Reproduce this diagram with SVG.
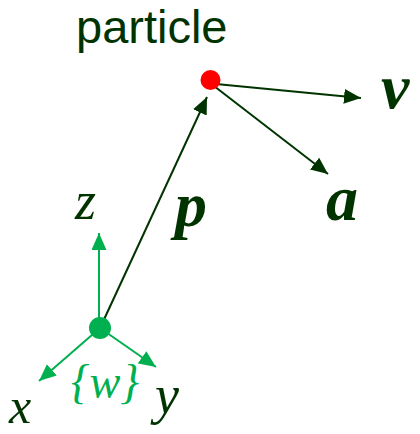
<svg xmlns="http://www.w3.org/2000/svg" width="420" height="434" viewBox="0 0 420 434">
<style>
.dk{stroke:#003300;stroke-width:2;fill:none}
.gn{stroke:#00b050;stroke-width:2;fill:none}
.lbl{font-family:"Liberation Serif",serif;font-style:italic;fill:#003300}
.vec{font-family:"Liberation Serif",serif;font-style:italic;font-weight:bold;fill:#003300;font-size:64px}
</style>
<defs>
<marker id="ad" markerUnits="userSpaceOnUse" markerWidth="18" markerHeight="16" refX="17" refY="7.5" orient="auto"><path d="M0,0 L17,7.5 L0,15 z" fill="#003300"/></marker>
<marker id="ag" markerUnits="userSpaceOnUse" markerWidth="18" markerHeight="16" refX="17" refY="7.5" orient="auto"><path d="M0,0 L17,7.5 L0,15 z" fill="#00b050"/></marker>
</defs>
<g id="connectors">
<line class="dk" x1="101" y1="326" x2="207" y2="97" marker-end="url(#ad)"/>
<line class="dk" x1="216" y1="84" x2="361" y2="98" marker-end="url(#ad)"/>
<line class="dk" x1="214" y1="86" x2="328" y2="174" marker-end="url(#ad)"/>
<line class="gn" x1="99" y1="328" x2="99" y2="233" marker-end="url(#ag)"/>
<line class="gn" x1="100" y1="328" x2="39" y2="381" marker-end="url(#ag)"/>
<line class="gn" x1="100" y1="328" x2="156" y2="367" marker-end="url(#ag)"/>
</g>
<g id="particle">
<circle cx="210.5" cy="80" r="10" fill="#ff0000"/>
<text x="76" y="43" font-family="'Liberation Sans',sans-serif" font-size="47" fill="#003300">particle</text>
</g>
<g id="world">
<circle cx="100" cy="328" r="11" fill="#00b050"/>
<text x="71" y="398" font-family="'Liberation Serif',serif" font-style="italic" font-size="48" fill="#00b050" textLength="68" lengthAdjust="spacingAndGlyphs">{w}</text>
</g>
<g id="labels">
<text class="lbl" x="75" y="219" font-size="54">z</text>
<text class="lbl" x="9" y="423" font-size="50">x</text>
<text class="lbl" x="155" y="413" font-size="54">y</text>
<text class="vec" x="175" y="226">p</text>
<text class="vec" x="326" y="220">a</text>
<text class="vec" x="381" y="108">v</text>
</g>
</svg>
